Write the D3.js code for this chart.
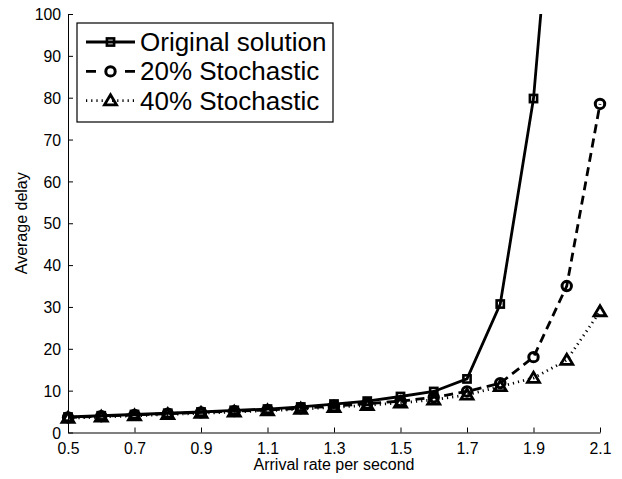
<!DOCTYPE html>
<html>
<head>
<meta charset="utf-8">
<script src="https://cdn.jsdelivr.net/npm/d3@7"></script>
<style>
  html, body { margin: 0; padding: 0; background: #fff; }
  svg { display: block; font-family: "Liberation Sans", Arial, Helvetica, sans-serif; }
</style>
</head>
<body>
<svg id="chart" width="622" height="479"></svg>
<script>
// ---- data ----
const arrivalRates = [0.5, 0.6, 0.7, 0.8, 0.9, 1.0, 1.1, 1.2, 1.3, 1.4, 1.5, 1.6, 1.7, 1.8, 1.9, 2.0, 2.1];
const originalSolution = [3.7, 4.0, 4.3, 4.6, 4.9, 5.3, 5.6, 6.1, 6.8, 7.5, 8.6, 9.8, 12.8, 30.7, 79.8, 172];
const stochastic20 = [3.6, 3.9, 4.2, 4.5, 4.8, 5.1, 5.4, 5.8, 6.3, 6.9, 7.5, 8.4, 9.8, 11.8, 18.0, 35.0, 78.5];
const stochastic40 = [3.4, 3.7, 4.0, 4.3, 4.6, 4.9, 5.2, 5.6, 6.0, 6.5, 7.1, 7.8, 9.0, 11.0, 13.0, 17.3, 28.9];
const seriesNames = ["Original solution", "20% Stochastic", "40% Stochastic"];
const xTickValues = [0.5, 0.7, 0.9, 1.1, 1.3, 1.5, 1.7, 1.9, 2.1];
const xTickLabels = ["0.5", "0.7", "0.9", "1.1", "1.3", "1.5", "1.7", "1.9", "2.1"];
const yTickValues = [0, 10, 20, 30, 40, 50, 60, 70, 80, 90, 100];
const yTickLabels = ["0", "10", "20", "30", "40", "50", "60", "70", "80", "90", "100"];
const xLabel = "Arrival rate per second";
const yLabel = "Average delay";

// ---- layout ----
const plotLeft = 68, plotRight = 600, plotTop = 14, plotBottom = 432.5;
const svg = d3.select("#chart");
const x = d3.scaleLinear().domain([0.5, 2.1]).range([plotLeft, plotRight]);
const y = d3.scaleLinear().domain([0, 100]).range([plotBottom, plotTop]);

svg.append("defs").append("clipPath").attr("id", "clip")
  .append("rect").attr("x", plotLeft - 10).attr("y", plotTop)
  .attr("width", plotRight - plotLeft + 20).attr("height", plotBottom - plotTop + 10);

// axes
const xAxis = d3.axisBottom(x).tickValues(xTickValues)
  .tickFormat((d, i) => xTickLabels[i]).tickSizeInner(-5).tickSizeOuter(0).tickPadding(10);
const yAxis = d3.axisLeft(y).tickValues(yTickValues)
  .tickFormat((d, i) => yTickLabels[i]).tickSizeInner(-5).tickSizeOuter(0).tickPadding(7);

const gx = svg.append("g").attr("transform", `translate(0,${plotBottom})`).call(xAxis);
const gy = svg.append("g").attr("transform", `translate(${plotLeft},0)`).call(yAxis);
[gx, gy].forEach(g => {
  g.selectAll("path.domain").attr("stroke", "#000").attr("stroke-width", 1);
  g.selectAll(".tick line").attr("stroke", "#000").attr("stroke-width", 1);
  g.selectAll(".tick text").attr("fill", "#000").style("font-size", "15.8px")
   .style("font-family", "'Liberation Sans', Arial, sans-serif");
});
gy.selectAll(".tick text").attr("dy", "0.36em");

svg.append("text").attr("x", (plotLeft + plotRight) / 2).attr("y", 469.5)
  .attr("text-anchor", "middle").style("font-size", "16px").text(xLabel);
svg.append("text").attr("transform", `translate(26.5,${(plotTop + plotBottom) / 2}) rotate(-90)`)
  .attr("text-anchor", "middle").style("font-size", "16px").text(yLabel);

// series
const series = [
  { name: seriesNames[0], values: originalSolution, dash: null, marker: "square", legendDash: null },
  { name: seriesNames[1], values: stochastic20, dash: "9,5.5", marker: "circle", legendDash: "10,29" },
  { name: seriesNames[2], values: stochastic40, dash: "1.2,4", marker: "triangle", legendDash: "1.2,4" }
];

function drawMarker(g, type, cx, cy) {
  if (type === "square") {
    g.append("rect").attr("x", cx - 3.6).attr("y", cy - 3.6).attr("width", 7.2).attr("height", 7.2)
      .attr("fill", "none").attr("stroke", "#000").attr("stroke-width", 2.6);
  } else if (type === "circle") {
    g.append("circle").attr("cx", cx).attr("cy", cy).attr("r", 4.7)
      .attr("fill", "none").attr("stroke", "#000").attr("stroke-width", 3);
  } else {
    g.append("path")
      .attr("d", `M${cx},${cy - 5.8}L${cx + 6},${cy + 4.2}L${cx - 6},${cy + 4.2}Z`)
      .attr("fill", "none").attr("stroke", "#000").attr("stroke-width", 2.8).attr("stroke-linejoin", "miter");
  }
}

const plot = svg.append("g").attr("clip-path", "url(#clip)");
series.forEach(s => {
  const pts = s.values.map((v, i) => [arrivalRates[i], v]);
  const line = d3.line().x(d => x(d[0])).y(d => y(d[1]));
  const p = plot.append("path").datum(pts).attr("d", line)
    .attr("fill", "none").attr("stroke", "#000").attr("stroke-width", 2.8);
  if (s.dash) p.attr("stroke-dasharray", s.dash);
  const mg = plot.append("g");
  pts.forEach(d => { if (d[1] <= 100) drawMarker(mg, s.marker, x(d[0]), y(d[1])); });
});

// legend
const lg = svg.append("g");
lg.append("rect").attr("x", 77).attr("y", 23).attr("width", 256).attr("height", 99)
  .attr("fill", "#fff").attr("stroke", "#000").attr("stroke-width", 1.2);
const rowY = [42, 71.4, 100.6];
series.forEach((s, i) => {
  const ry = rowY[i];
  const l = lg.append("line").attr("x1", 86).attr("x2", 135).attr("y1", ry).attr("y2", ry)
    .attr("stroke", "#000").attr("stroke-width", 2.8);
  if (s.legendDash) l.attr("stroke-dasharray", s.legendDash);
  drawMarker(lg, s.marker, 110.5, ry);
  lg.append("text").attr("x", 140).attr("y", ry + 8.9).style("font-size", "26px").text(s.name);
});
</script>
</body>
</html>
